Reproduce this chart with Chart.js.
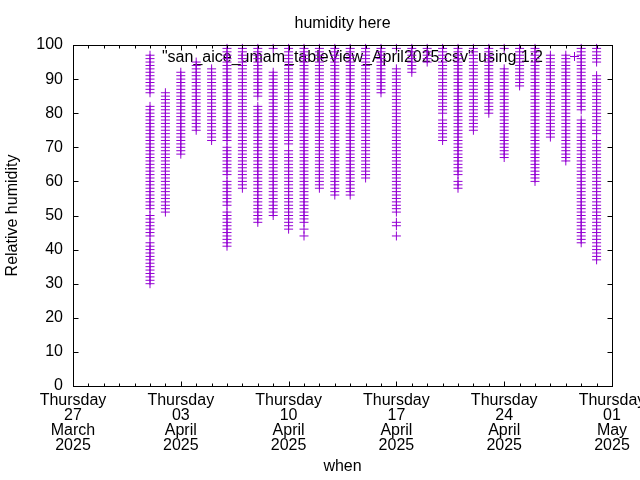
<!DOCTYPE html>
<html><head><meta charset="utf-8">
<script src="https://cdn.jsdelivr.net/npm/chart.js@4"></script>
<style>html,body{margin:0;padding:0;background:#fff}#wrap{width:640px;height:480px}</style>
</head><body><div id="wrap"><canvas id="c" width="640" height="480"></canvas></div>
<script>
// ---- data ----
const days = ['2025-04-01','2025-04-02','2025-04-03','2025-04-04','2025-04-05','2025-04-06','2025-04-07','2025-04-08','2025-04-09','2025-04-10',
  '2025-04-11','2025-04-12','2025-04-13','2025-04-14','2025-04-15','2025-04-16','2025-04-17','2025-04-18','2025-04-19','2025-04-20',
  '2025-04-21','2025-04-22','2025-04-23','2025-04-24','2025-04-25','2025-04-26','2025-04-27','2025-04-28','2025-04-29','2025-04-30'];
const humidity = [
  [30,31,32,33,34,35,36,37,38,39,40,41,42,44,45,46,47,48,49,50,52,53,54,55,56,57,58,59,60,61,62,63,64,65,66,67,68,69,70,71,72,73,74,75,76,77,78,79,80,81,82,86,87,88,89,90,91,92,93,94,95,96,97],
  [51,52,53,54,55,56,57,58,59,60,61,62,63,64,65,66,67,68,69,70,71,72,73,74,75,76,77,78,79,80,81,82,83,84,85,86],
  [68,69,70,71,72,73,74,75,76,77,78,79,80,81,82,83,84,85,86,87,88,89,90,91,92],
  [75,76,77,78,79,80,81,82,83,84,85,86,87,88,89,90,91,92,93,94,95],
  [72,73,74,75,76,77,78,79,80,81,82,83,84,85,86,87,88,89,90,91,92,93],
  [41,42,43,44,45,46,47,48,49,50,51,53,54,55,56,57,58,59,60,62,63,64,65,66,67,68,69,70,72,73,74,75,76,77,78,79,80,81,82,83,84,85,86,87,88,89,90,91,92,93,94,95,96,97,98,99],
  [58,59,60,61,62,63,64,65,66,67,68,69,70,71,72,73,74,75,76,77,78,79,80,81,82,83,84,85,86,87,88,89,90,91,92,93,94,95,96,97,98,99],
  [48,49,50,51,52,53,54,55,56,57,58,59,60,61,62,63,64,65,66,67,68,69,70,71,72,73,74,75,76,77,78,79,80,81,82,85,86,87,88,89,90,91,92,93,94,95,96,97,98,99],
  [50,51,52,53,54,55,56,57,58,59,60,61,62,63,64,65,66,67,68,69,70,71,72,73,74,75,76,77,78,79,80,81,82,83,84,85,86,87,88,89,90,91,92,99],
  [46,47,48,49,50,51,52,53,54,55,56,57,58,59,60,61,62,63,64,65,66,67,68,69,71,72,73,74,75,76,77,78,79,80,81,82,83,84,85,86,87,88,89,90,91,92,93,94,95,96,97,98,99],
  [44,46,48,49,50,51,52,53,54,55,56,57,58,59,60,61,62,63,64,65,66,67,68,69,70,71,72,73,74,75,76,77,78,79,80,81,82,83,84,85,86,87,88,89,90,91,92,93,94,95,96,97,98,99],
  [58,59,60,61,62,63,64,65,66,67,68,69,70,71,72,73,74,75,76,77,78,79,80,81,82,83,84,85,86,87,88,89,90,91,92,93,94,95,96,97,98,99],
  [56,57,58,59,60,61,62,63,64,65,66,67,68,69,70,71,72,73,74,75,76,77,78,79,80,81,82,83,84,85,86,87,88,89,90,91,92,93,94,95,96,97,98,99],
  [56,57,58,59,60,61,62,63,64,65,66,67,68,69,70,71,72,73,74,75,76,77,78,79,80,81,82,83,84,85,86,87,88,89,90,91,92,93,94,95,96,97,98,99],
  [61,62,63,64,65,66,67,68,69,70,71,72,73,74,75,76,77,78,79,80,81,82,83,84,85,86,87,88,89,90,91,92,93,94,95,96,97,98,99],
  [86,87,88,89,90,91,92,93,94,95,96,97,98,99],
  [44,47,48,51,52,53,54,55,56,57,58,59,60,61,62,63,64,65,66,67,68,69,70,71,72,73,74,75,76,77,78,79,80,81,82,83,84,85,86,87,88,89,90,91,92,93,99],
  [92,93,94,95,96,97,98,99],
  [95,96,97,98,99],
  [72,73,74,75,76,77,78,80,81,82,83,84,85,86,87,88,89,90,91,92,93,94,95,96,97,98,99],
  [58,59,60,62,63,64,65,66,67,68,69,70,71,72,73,74,75,76,77,78,79,80,81,82,83,84,85,86,87,88,89,90,91,92,93,94,95,96,97,98,99],
  [75,76,77,78,79,80,81,82,83,84,85,86,87,88,89,90,91,92,93,94,95,96,97,98,99],
  [80,81,82,83,84,85,86,87,88,89,90,91,92,93,94,95,96,97,98,99],
  [67,68,69,70,71,72,73,74,75,76,77,78,79,80,81,82,83,84,85,86,87,88,89,90,91,92,93,99],
  [88,89,90,91,92,93,94,95,96,97,98,99],
  [60,61,62,63,64,65,66,67,68,69,70,71,72,73,74,75,76,77,78,79,80,81,82,83,84,85,86,87,88,89,90,91,92,93,94,95,96,97,98,99],
  [73,74,75,76,77,78,79,80,81,82,83,84,85,86,87,88,89,90,91,92,93,94,95,96,97],
  [66,67,68,69,70,71,72,73,74,75,76,77,78,79,80,81,82,83,84,85,86,87,88,89,90,91,92,93,94,95,96,97],
  [42,43,44,45,46,47,48,49,50,51,52,53,54,55,56,57,58,59,60,61,62,63,64,65,66,67,68,69,70,71,72,73,74,75,76,77,78,81,82,83,84,85,86,87,88,89,90,91,92,93,94,95,96,97,98,99],
  [37,38,39,40,41,42,43,44,45,46,47,48,49,50,51,52,53,54,55,56,57,58,59,60,61,62,63,64,65,66,67,68,69,70,71,72,74,75,76,77,78,79,80,81,82,83,84,85,86,87,88,89,90,91,95,96,97,98,99]
];
const xRange = ['2025-03-27','2025-05-01'];
const xTickDates = ['2025-03-27','2025-04-03','2025-04-10','2025-04-17','2025-04-24','2025-05-01'];
const xTickLabels = [
  ['Thursday','27','March','2025'],
  ['Thursday','03','April','2025'],
  ['Thursday','10','April','2025'],
  ['Thursday','17','April','2025'],
  ['Thursday','24','April','2025'],
  ['Thursday','01','May','2025']
];
const yTicks = [0,10,20,30,40,50,60,70,80,90,100];
const titleText = 'humidity here';
const xTitle = 'when';
const yTitle = 'Relative humidity';
const seriesLabel = '"san_aice_umam_tableView_April2025.csv" using 1:2';

// ---- chart ----
const DAY = 86400000;
const toMs = s => Date.parse(s + 'T00:00:00Z');
const FAMILY = '"Liberation Sans", Arial, sans-serif';
const FONT = '16px ' + FAMILY;
const PURPLE = '#9400d3';

const points = [];
days.forEach((d, i) => humidity[i].forEach(v => points.push({x: toMs(d), y: v})));

const gp = {
  id: 'gp',
  beforeDatasetsDraw(chart) {
    const ctx = chart.ctx;
    ctx.save();
    ctx.font = FONT;
    ctx.fillStyle = '#000';
    ctx.textAlign = 'right';
    ctx.textBaseline = 'alphabetic';
    ctx.fillText(seriesLabel, 543, 61.5);
    ctx.restore();
  },
  afterDraw(chart) {
    const ctx = chart.ctx, a = chart.chartArea;
    const xs = chart.scales.x, ys = chart.scales.y;
    const L = Math.round(a.left) + 0.5, R = Math.round(a.right) + 0.5;
    const T = Math.round(a.top) + 0.5, B = Math.round(a.bottom) + 0.5;
    ctx.save();
    ctx.strokeStyle = '#000';
    ctx.lineWidth = 1;
    ctx.beginPath();
    // daily minor ticks + weekly major ticks (x), bottom and top mirror
    const x0 = toMs(xRange[0]), x1 = toMs(xRange[1]);
    const majors = xTickDates.map(toMs);
    for (let t = x0; t <= x1; t += DAY) {
      const px = Math.round(xs.getPixelForValue(t)) + 0.5;
      const len = majors.includes(t) ? 5 : 3;
      ctx.moveTo(px, B); ctx.lineTo(px, B - len);
      ctx.moveTo(px, T); ctx.lineTo(px, T + len);
    }
    yTicks.forEach(v => {
      const py = Math.round(ys.getPixelForValue(v)) + 0.5;
      ctx.moveTo(L, py); ctx.lineTo(L + 5, py);
      ctx.moveTo(R, py); ctx.lineTo(R - 5, py);
    });
    ctx.stroke();
    ctx.strokeRect(L, T, R - L, B - T);

    ctx.fillStyle = '#000';
    ctx.font = FONT;
    ctx.textAlign = 'center';
    ctx.textBaseline = 'alphabetic';
    xTickDates.forEach((d, i) => {
      const px = xs.getPixelForValue(toMs(d));
      xTickLabels[i].forEach((line, j) => ctx.fillText(line, px, 405 + 15 * j));
    });
    const cx = (a.left + a.right) / 2;
    ctx.fillText(titleText, cx, 27.5);
    ctx.fillText(xTitle, cx, 471);
    ctx.save();
    ctx.translate(17, (a.top + a.bottom) / 2);
    ctx.rotate(-Math.PI / 2);
    ctx.fillText(yTitle, 0, 0);
    ctx.restore();

    // key sample
    ctx.strokeStyle = PURPLE;
    ctx.beginPath();
    ctx.moveTo(570, 56.5); ctx.lineTo(579, 56.5);
    ctx.moveTo(574.5, 52); ctx.lineTo(574.5, 61);
    ctx.stroke();
    ctx.restore();
  }
};

new Chart(document.getElementById('c'), {
  type: 'scatter',
  data: { datasets: [{
    label: seriesLabel,
    data: points,
    pointStyle: 'cross',
    pointRadius: 4.5,
    pointBorderWidth: 1,
    borderColor: PURPLE,
    backgroundColor: PURPLE,
    showLine: false,
    clip: false
  }]},
  options: {
    responsive: false,
    devicePixelRatio: 1,
    animation: false,
    events: [],
    layout: { padding: { top: 45, right: 28, left: 0, bottom: 0 } },
    plugins: { legend: { display: false }, title: { display: false }, tooltip: { enabled: false } },
    scales: {
      x: {
        type: 'linear',
        min: toMs(xRange[0]), max: toMs(xRange[1]),
        ticks: { display: false },
        grid: { display: false, drawTicks: false },
        border: { display: false },
        afterFit: s => { s.height = 94; }
      },
      y: {
        min: 0, max: 100,
        afterBuildTicks: s => { s.ticks = yTicks.map(v => ({ value: v })); },
        ticks: { color: '#000', font: { family: FAMILY, size: 16 }, padding: 10 },
        grid: { display: false, drawTicks: false },
        border: { display: false },
        afterFit: s => { s.width = 73; }
      }
    }
  },
  plugins: [gp]
});
</script>
</body></html>
